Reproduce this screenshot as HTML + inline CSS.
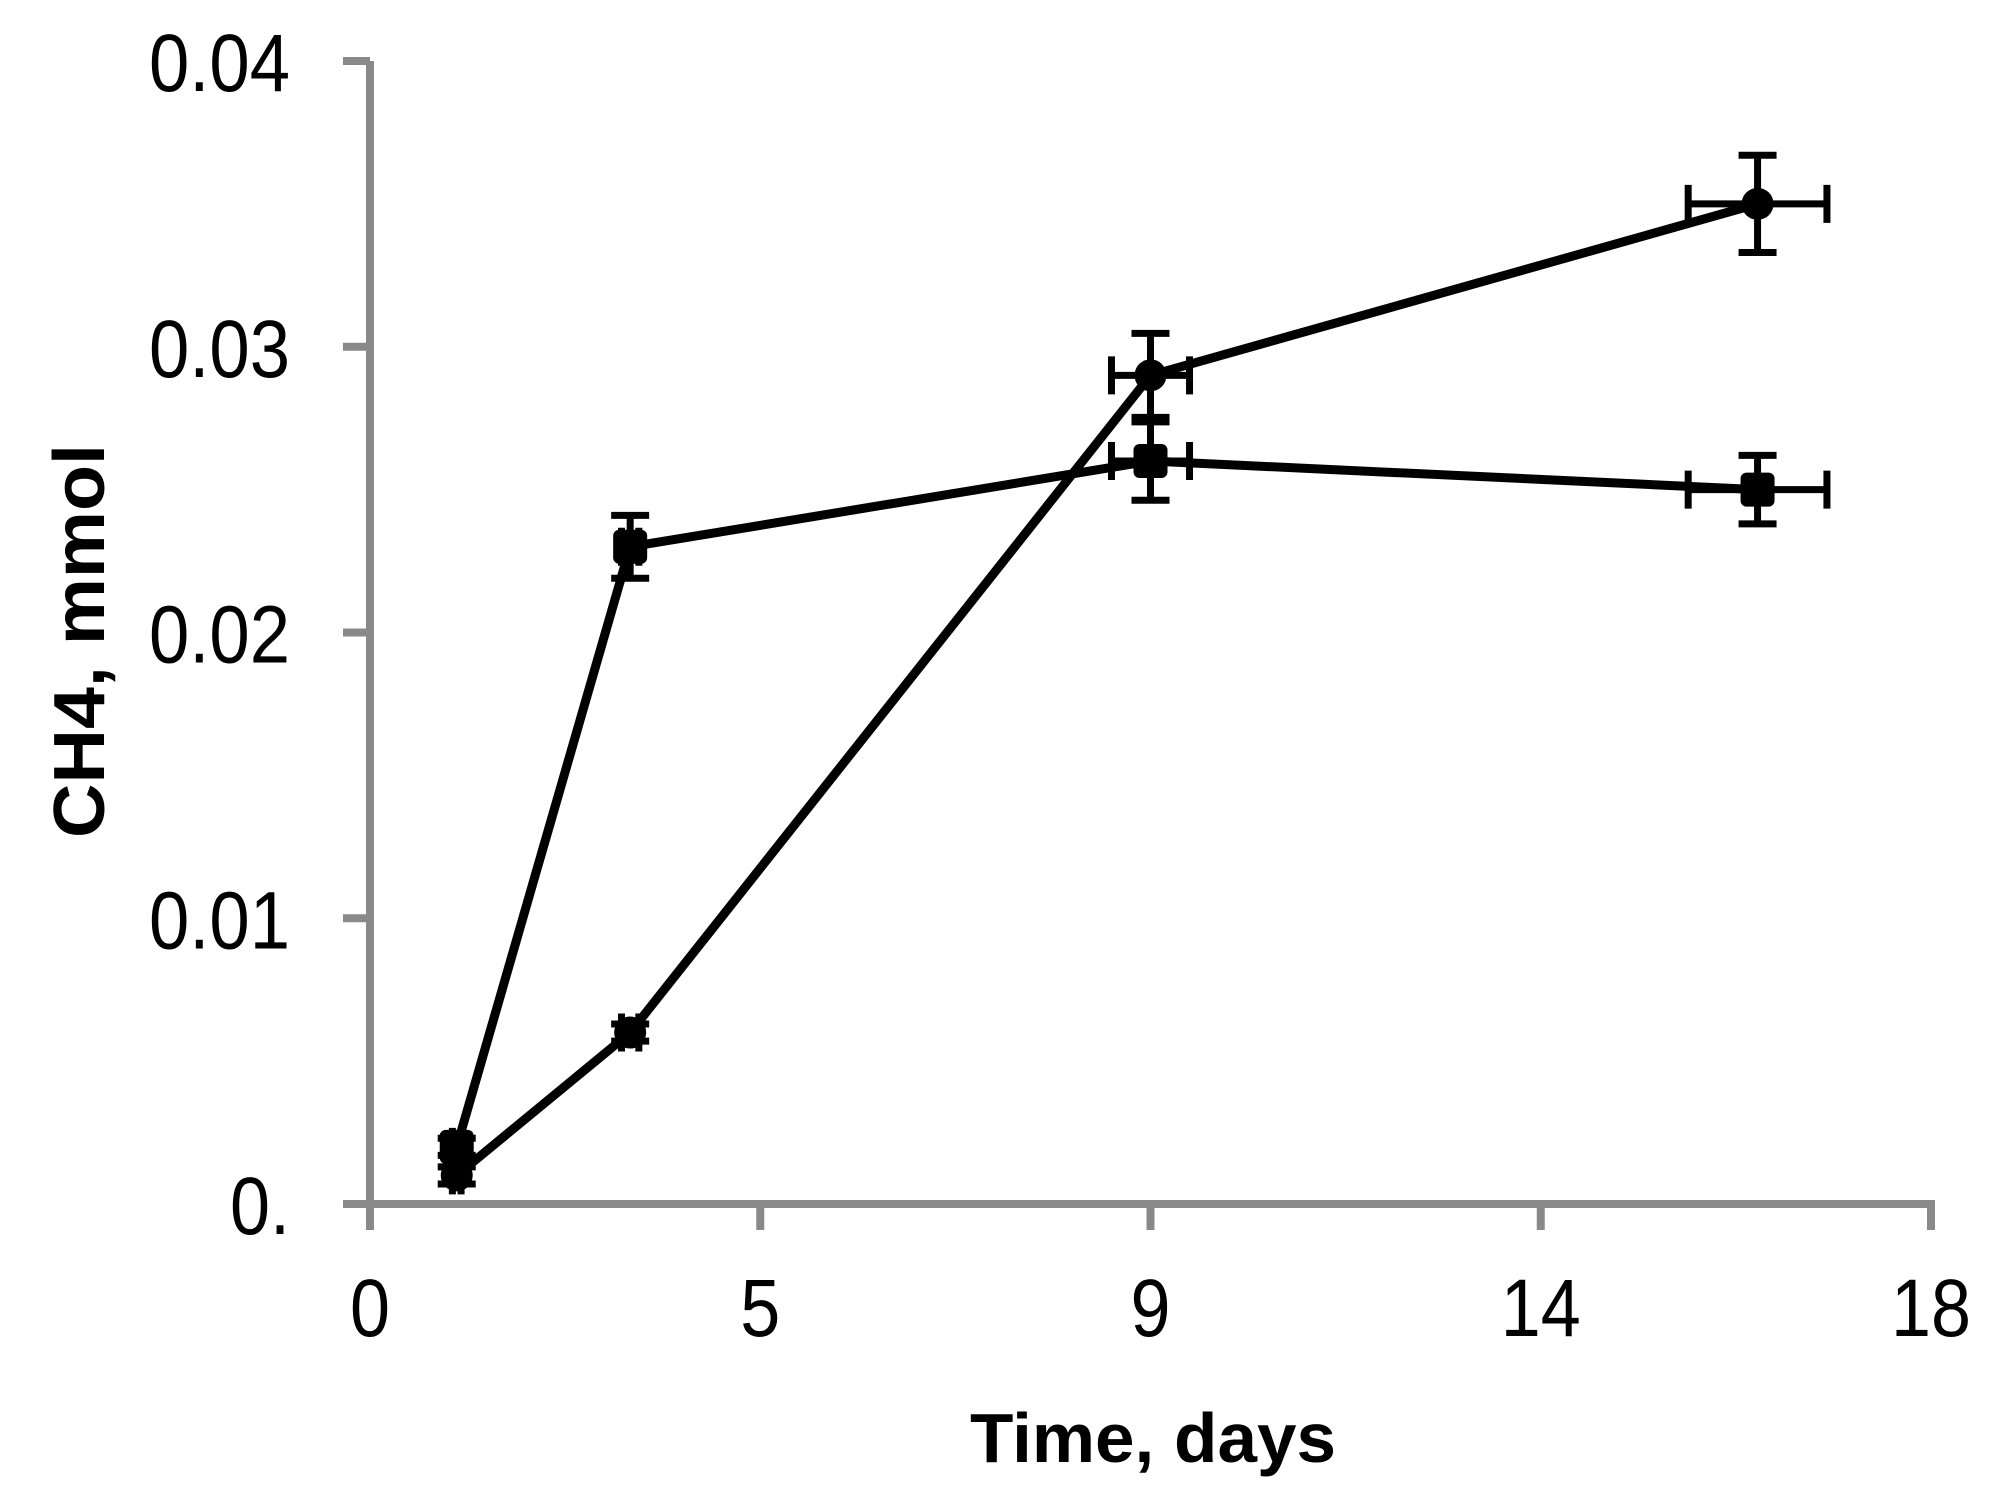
<!DOCTYPE html>
<html><head><meta charset="utf-8"><style>html,body{margin:0;padding:0;background:#fff}svg{display:block}</style></head>
<body>
<svg id="chart" width="1991" height="1500" viewBox="0 0 1991 1500" xmlns="http://www.w3.org/2000/svg" font-family="'Liberation Sans', sans-serif">
<g id="axes"></g>
<g id="series"></g>
<text x="1153" y="1462" font-size="70" font-weight="bold" text-anchor="middle" textLength="366" lengthAdjust="spacingAndGlyphs">Time, days</text>
<text transform="translate(80,641) rotate(-90)" font-size="72" font-weight="bold" text-anchor="middle" dominant-baseline="central" textLength="394" lengthAdjust="spacingAndGlyphs">CH4, mmol</text>
</svg>
<script>
const xTickVals = [0, 4.5, 9, 13.5, 18];
const xTickLabels = ['0', '5', '9', '14', '18'];
const yTickVals = [0, 0.01, 0.02, 0.03, 0.04];
const yTickLabels = ['0.', '0.01', '0.02', '0.03', '0.04'];
const days = [1, 3, 9, 16];
const circleValues = [0.001, 0.006, 0.029, 0.035];
const circleYErr = [0.0003, 0.0003, 0.00147, 0.0017];
const circleXErr = [0.05, 0.1, 0.45, 0.8];
const squareValues = [0.002, 0.023, 0.026, 0.025];
const squareYErr = [0.0003, 0.0011, 0.00137, 0.0012];
const squareXErr = [0.05, 0.1, 0.45, 0.8];

const NS = 'http://www.w3.org/2000/svg';
const X0 = 370, X1 = 1931, Y0 = 1204, Y1 = 61;
function xs(v){ return X0 + (v - 0) / 18 * (X1 - X0); }
function ys(v){ return Y0 - v / 0.04 * (Y0 - Y1); }
function mk(tag, attrs, parent){ const e = document.createElementNS(NS, tag); for (const k in attrs) e.setAttribute(k, attrs[k]); parent.appendChild(e); return e; }

const axes = document.getElementById('axes');
const series = document.getElementById('series');
const gray = '#898989';
let el;
el = mk('line', {x1: X0, y1: Y1, x2: X0, y2: Y0 + 4, stroke: gray, 'stroke-width': 8}, axes);


el = mk('line', {x1: 343, y1: Y0, x2: X1 + 4, y2: Y0, stroke: gray, 'stroke-width': 8}, axes);


yTickVals.forEach((v, i) => {
  const y = ys(v);
  const t = mk('line', {x1: 343, y1: y, x2: X0, y2: y, stroke: gray, 'stroke-width': 8}, axes);
  
  
  const l = mk('text', {x: 290, y: y + 30, 'font-size': 82, 'text-anchor': 'end', textLength: yTickLabels[i].length > 2 ? 141 : 60, lengthAdjust: 'spacingAndGlyphs'}, axes);
  l.textContent = yTickLabels[i];
  
  
});
xTickVals.forEach((v, i) => {
  const x = xs(v);
  const t = mk('line', {x1: x, y1: Y0, x2: x, y2: 1230, stroke: gray, 'stroke-width': 8}, axes);
  
  
  const l = mk('text', {x: x, y: 1336, 'font-size': 82, 'text-anchor': 'middle', textLength: xTickLabels[i].length * 40, lengthAdjust: 'spacingAndGlyphs'}, axes);
  l.textContent = xTickLabels[i];
  
  
});

function drawSeries(vals, yerr, xerr, shape, name){
  const g = mk('g', {}, series);
  
  
  const pts = days.map((d, i) => xs(d) + ',' + ys(vals[i])).join(' ');
  const line = mk('polyline', {points: pts, fill: 'none', stroke: '#000', 'stroke-width': 9, 'stroke-linejoin': 'round'}, g);
  
  
  days.forEach((d, i) => {
    const cx = xs(d), cy = ys(vals[i]);
    const yt = ys(vals[i] + yerr[i]), yb = ys(vals[i] - yerr[i]);
    const xl = xs(d - xerr[i]), xr = xs(d + xerr[i]);
    const p = `M${cx},${yt}V${yb}M${cx-19},${yt}H${cx+19}M${cx-19},${yb}H${cx+19}M${xl},${cy}H${xr}M${xl},${cy-19}V${cy+19}M${xr},${cy-19}V${cy+19}`;
    const eb = mk('path', {d: p, stroke: '#000', 'stroke-width': 7, fill: 'none'}, g);
    
    
    let m;
    if (shape === 'circle') m = mk('circle', {cx: cx, cy: cy, r: 16, fill: '#000'}, g);
    else m = mk('rect', {x: cx - 17, y: cy - 17, width: 34, height: 34, rx: 6, fill: '#000'}, g);
    
    
  });
}
drawSeries(squareValues, squareYErr, squareXErr, 'square', 'square-series');
drawSeries(circleValues, circleYErr, circleXErr, 'circle', 'circle-series');
</script>
</body></html>
